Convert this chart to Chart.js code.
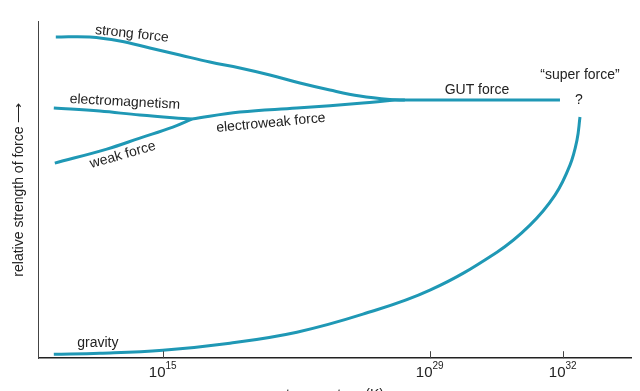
<!DOCTYPE html>
<html>
<head>
<meta charset="utf-8">
<script src="https://cdn.jsdelivr.net/npm/chart.js@4.4.1/dist/chart.umd.min.js"></script>
<style>
  html, body { margin: 0; padding: 0; background: #fff; overflow: hidden; }
  #wrap { width: 640px; height: 391px; overflow: hidden; }
</style>
</head>
<body>
<div id="wrap"><canvas id="forces" width="640" height="404"></canvas></div>
<script>
// Curves as [position along temperature axis, relative strength] (arbitrary units)
const strongForce = [[17,321],[51,321],[81,317],[111,310],[141,303],[171,296],[201,290],[231,283],[261,275],[291,268],[321,262],[351,258.5],[366,258]];
const electromagnetism = [[15,250],[61,247],[101,243],[153,239]];
const weakForce = [[16,195],[68,209],[101,220],[134,231],[153,239]];
const electroweakForce = [[153,239],[201,246],[258,250],[324,255],[356,258],[366,258]];
const gutForce = [[366,258],[521,258]];
const gravity = [[15,4],[61,5],[124,8],[191,15],[258,26],[324,44],[391,68],[458,106],[491,133],[516,163],[531,193],[538,218],[541,241]];

// Temperature ticks: position on the axis and power of ten
const tickPositions = [124, 391, 524];
const tickExponents = ['15', '29', '32'];

const xTitle = 'temperature (K)';
const yTitle = 'relative strength of force \u27F6';

// Text placed next to the curves
const curveLabels = [
  { text: 'strong force', x: 93, y: 324, angle: 6 },
  { text: 'electromagnetism', x: 86, y: 256, angle: 3 },
  { text: 'weak force', x: 84, y: 203, angle: -16 },
  { text: 'electroweak force', x: 232, y: 235, angle: -5.4 },
  { text: 'GUT force', x: 438, y: 268, angle: 0 },
  { text: '\u201Csuper force\u201D', x: 541, y: 283, angle: 0 },
  { text: '?', x: 540, y: 258, angle: 0 },
  { text: 'gravity', x: 59, y: 15, angle: 0 }
];

const LINE_COLOR = '#1f98b5';
const TEXT_COLOR = '#222';
const FONT = "'Liberation Sans', Arial, sans-serif";

function toPoints(pairs) {
  return pairs.map(p => ({ x: p[0], y: p[1] }));
}

function curve(pairs) {
  return {
    data: toPoints(pairs),
    borderColor: LINE_COLOR,
    borderWidth: 3,
    pointRadius: 0,
    fill: false,
    tension: 0.4,
    borderCapStyle: 'butt'
  };
}

// Draws tick marks, 10^n labels and curve labels
const annotate = {
  id: 'annotate',
  afterDraw(chart) {
    const ctx = chart.ctx;
    const xs = chart.scales.x;
    const ys = chart.scales.y;
    const base = xs.top;

    ctx.save();
    ctx.strokeStyle = '#444';
    ctx.lineWidth = 1;
    ctx.fillStyle = TEXT_COLOR;
    tickPositions.forEach((pos, i) => {
      const px = Math.round(xs.getPixelForValue(pos)) + 0.5;
      ctx.beginPath();
      ctx.moveTo(px, base);
      ctx.lineTo(px, base - 7);
      ctx.stroke();

      ctx.textBaseline = 'alphabetic';
      ctx.font = '15px ' + FONT;
      ctx.textAlign = 'right';
      ctx.fillText('10', px + 2, base + 19);
      ctx.font = '10px ' + FONT;
      ctx.textAlign = 'left';
      ctx.fillText(tickExponents[i], px + 2, base + 11);
    });

    ctx.font = '14px ' + FONT;
    ctx.textAlign = 'center';
    ctx.textBaseline = 'middle';
    curveLabels.forEach(l => {
      ctx.save();
      ctx.translate(xs.getPixelForValue(l.x), ys.getPixelForValue(l.y));
      ctx.rotate(l.angle * Math.PI / 180);
      ctx.fillText(l.text, 0, 0);
      ctx.restore();
    });
    ctx.restore();
  }
};

new Chart(document.getElementById('forces'), {
  type: 'line',
  data: {
    datasets: [
      curve(strongForce),
      curve(electromagnetism),
      curve(weakForce),
      curve(electroweakForce),
      curve(gutForce),
      curve(gravity)
    ]
  },
  options: {
    responsive: false,
    animation: false,
    events: [],
    layout: { padding: { left: 6, top: 21, right: 9, bottom: 0 } },
    plugins: { legend: { display: false }, tooltip: { enabled: false } },
    scales: {
      x: {
        type: 'linear',
        min: 0,
        max: 592,
        grid: { display: false, drawTicks: false },
        border: { display: true, color: '#222', width: 1.5 },
        ticks: { display: false },
        title: {
          display: true,
          text: xTitle,
          color: TEXT_COLOR,
          font: { family: FONT, size: 14 },
          padding: { top: 29, bottom: 0 }
        }
      },
      y: {
        type: 'linear',
        min: 0,
        max: 337,
        grid: { display: false, drawTicks: false },
        border: { display: true, color: '#444', width: 1 },
        ticks: { display: false },
        title: {
          display: true,
          text: yTitle,
          color: TEXT_COLOR,
          font: { family: FONT, size: 14 },
          padding: { top: 5, bottom: 11 }
        }
      }
    }
  },
  plugins: [annotate]
});
</script>
</body>
</html>
